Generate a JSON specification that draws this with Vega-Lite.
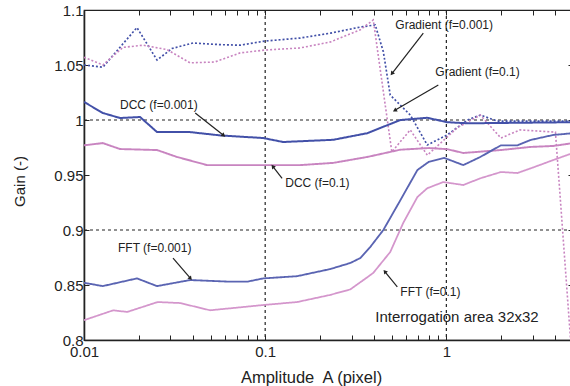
{
  "$schema": "https://vega.github.io/schema/vega-lite/v6.json",
  "width": 489,
  "height": 330,
  "autosize": {"type": "none"},
  "padding": {"left": 84, "top": 10, "right": 0, "bottom": 46},
  "background": "white",
  "config": {
    "view": {"stroke": "#222", "strokeWidth": 1.2},
    "font": "Liberation Sans",
    "axis": {
      "domainColor": "#222", "domainWidth": 1.6, "tickColor": "#222", "tickWidth": 1,
      "labelFont": "Liberation Sans", "labelFontSize": 15, "labelColor": "#222",
      "titleFont": "Liberation Sans", "titleFontSize": 15, "titleFontWeight": "normal", "titleColor": "#222",
      "grid": false, "labelFlush": false
    }
  },
  "datasets": {
    "curves": [
      {"s": "Gradient (f=0.001)", "x": 0.01, "y": 1.05},
      {"s": "Gradient (f=0.001)", "x": 0.0127, "y": 1.048},
      {"s": "Gradient (f=0.001)", "x": 0.0196, "y": 1.084},
      {"s": "Gradient (f=0.001)", "x": 0.0253, "y": 1.0545},
      {"s": "Gradient (f=0.001)", "x": 0.0306, "y": 1.065},
      {"s": "Gradient (f=0.001)", "x": 0.04, "y": 1.07},
      {"s": "Gradient (f=0.001)", "x": 0.0564, "y": 1.0685},
      {"s": "Gradient (f=0.001)", "x": 0.0728, "y": 1.068},
      {"s": "Gradient (f=0.001)", "x": 0.1, "y": 1.0718},
      {"s": "Gradient (f=0.001)", "x": 0.156, "y": 1.0745},
      {"s": "Gradient (f=0.001)", "x": 0.23, "y": 1.079},
      {"s": "Gradient (f=0.001)", "x": 0.335, "y": 1.0845},
      {"s": "Gradient (f=0.001)", "x": 0.405, "y": 1.0864},
      {"s": "Gradient (f=0.001)", "x": 0.449, "y": 1.062},
      {"s": "Gradient (f=0.001)", "x": 0.49, "y": 1.0227},
      {"s": "Gradient (f=0.001)", "x": 0.632, "y": 1.0045},
      {"s": "Gradient (f=0.001)", "x": 0.785, "y": 0.9773},
      {"s": "Gradient (f=0.001)", "x": 1.01, "y": 0.9864},
      {"s": "Gradient (f=0.001)", "x": 1.31, "y": 1.0},
      {"s": "Gradient (f=0.001)", "x": 1.54, "y": 1.0045},
      {"s": "Gradient (f=0.001)", "x": 1.91, "y": 0.999},
      {"s": "Gradient (f=0.001)", "x": 3.0, "y": 0.999},
      {"s": "Gradient (f=0.001)", "x": 5.0, "y": 0.999},

      {"s": "Gradient (f=0.1)", "x": 0.01, "y": 1.057},
      {"s": "Gradient (f=0.1)", "x": 0.0127, "y": 1.05},
      {"s": "Gradient (f=0.1)", "x": 0.0164, "y": 1.066},
      {"s": "Gradient (f=0.1)", "x": 0.0212, "y": 1.068},
      {"s": "Gradient (f=0.1)", "x": 0.0287, "y": 1.064},
      {"s": "Gradient (f=0.1)", "x": 0.0385, "y": 1.052},
      {"s": "Gradient (f=0.1)", "x": 0.0526, "y": 1.0527},
      {"s": "Gradient (f=0.1)", "x": 0.0728, "y": 1.061},
      {"s": "Gradient (f=0.1)", "x": 0.1, "y": 1.0636},
      {"s": "Gradient (f=0.1)", "x": 0.156, "y": 1.0655},
      {"s": "Gradient (f=0.1)", "x": 0.23, "y": 1.071},
      {"s": "Gradient (f=0.1)", "x": 0.335, "y": 1.082},
      {"s": "Gradient (f=0.1)", "x": 0.395, "y": 1.091},
      {"s": "Gradient (f=0.1)", "x": 0.5, "y": 0.971},
      {"s": "Gradient (f=0.1)", "x": 0.632, "y": 0.991},
      {"s": "Gradient (f=0.1)", "x": 0.785, "y": 0.968},
      {"s": "Gradient (f=0.1)", "x": 1.15, "y": 0.993},
      {"s": "Gradient (f=0.1)", "x": 1.54, "y": 1.0045},
      {"s": "Gradient (f=0.1)", "x": 2.0, "y": 0.9836},
      {"s": "Gradient (f=0.1)", "x": 2.55, "y": 0.991},
      {"s": "Gradient (f=0.1)", "x": 4.0, "y": 0.989},
      {"s": "Gradient (f=0.1)", "x": 5.0, "y": 0.77},

      {"s": "DCC (f=0.001)", "x": 0.01, "y": 1.0164},
      {"s": "DCC (f=0.001)", "x": 0.0127, "y": 1.0064},
      {"s": "DCC (f=0.001)", "x": 0.0158, "y": 1.0018},
      {"s": "DCC (f=0.001)", "x": 0.0204, "y": 1.0027},
      {"s": "DCC (f=0.001)", "x": 0.0253, "y": 0.989},
      {"s": "DCC (f=0.001)", "x": 0.0385, "y": 0.989},
      {"s": "DCC (f=0.001)", "x": 0.0564, "y": 0.986},
      {"s": "DCC (f=0.001)", "x": 0.0975, "y": 0.9836},
      {"s": "DCC (f=0.001)", "x": 0.1257, "y": 0.98},
      {"s": "DCC (f=0.001)", "x": 0.2374, "y": 0.982},
      {"s": "DCC (f=0.001)", "x": 0.366, "y": 0.988},
      {"s": "DCC (f=0.001)", "x": 0.557, "y": 1.0},
      {"s": "DCC (f=0.001)", "x": 0.785, "y": 1.002},
      {"s": "DCC (f=0.001)", "x": 1.01, "y": 0.998},
      {"s": "DCC (f=0.001)", "x": 1.31, "y": 0.997},
      {"s": "DCC (f=0.001)", "x": 5.0, "y": 0.998},

      {"s": "DCC (f=0.1)", "x": 0.01, "y": 0.977},
      {"s": "DCC (f=0.1)", "x": 0.0127, "y": 0.979},
      {"s": "DCC (f=0.1)", "x": 0.0158, "y": 0.9736},
      {"s": "DCC (f=0.1)", "x": 0.0253, "y": 0.9727},
      {"s": "DCC (f=0.1)", "x": 0.0326, "y": 0.9664},
      {"s": "DCC (f=0.1)", "x": 0.0478, "y": 0.959},
      {"s": "DCC (f=0.1)", "x": 0.0795, "y": 0.959},
      {"s": "DCC (f=0.1)", "x": 0.156, "y": 0.959},
      {"s": "DCC (f=0.1)", "x": 0.2374, "y": 0.961},
      {"s": "DCC (f=0.1)", "x": 0.366, "y": 0.9664},
      {"s": "DCC (f=0.1)", "x": 0.557, "y": 0.973},
      {"s": "DCC (f=0.1)", "x": 0.8, "y": 0.9745},
      {"s": "DCC (f=0.1)", "x": 1.01, "y": 0.9735},
      {"s": "DCC (f=0.1)", "x": 1.24, "y": 0.97},
      {"s": "DCC (f=0.1)", "x": 2.0, "y": 0.9727},
      {"s": "DCC (f=0.1)", "x": 2.91, "y": 0.9755},
      {"s": "DCC (f=0.1)", "x": 3.89, "y": 0.9764},
      {"s": "DCC (f=0.1)", "x": 5.0, "y": 0.979},

      {"s": "FFT (f=0.001)", "x": 0.01, "y": 0.852},
      {"s": "FFT (f=0.001)", "x": 0.0127, "y": 0.849},
      {"s": "FFT (f=0.001)", "x": 0.0196, "y": 0.856},
      {"s": "FFT (f=0.001)", "x": 0.0253, "y": 0.849},
      {"s": "FFT (f=0.001)", "x": 0.0385, "y": 0.8545},
      {"s": "FFT (f=0.001)", "x": 0.0641, "y": 0.853},
      {"s": "FFT (f=0.001)", "x": 0.0795, "y": 0.853},
      {"s": "FFT (f=0.001)", "x": 0.0975, "y": 0.856},
      {"s": "FFT (f=0.001)", "x": 0.15, "y": 0.858},
      {"s": "FFT (f=0.001)", "x": 0.2287, "y": 0.8645},
      {"s": "FFT (f=0.001)", "x": 0.295, "y": 0.87},
      {"s": "FFT (f=0.001)", "x": 0.335, "y": 0.8745},
      {"s": "FFT (f=0.001)", "x": 0.38, "y": 0.8845},
      {"s": "FFT (f=0.001)", "x": 0.449, "y": 0.9},
      {"s": "FFT (f=0.001)", "x": 0.557, "y": 0.927},
      {"s": "FFT (f=0.001)", "x": 0.692, "y": 0.9545},
      {"s": "FFT (f=0.001)", "x": 0.8, "y": 0.962},
      {"s": "FFT (f=0.001)", "x": 0.975, "y": 0.9655},
      {"s": "FFT (f=0.001)", "x": 1.24, "y": 0.959},
      {"s": "FFT (f=0.001)", "x": 1.54, "y": 0.9664},
      {"s": "FFT (f=0.001)", "x": 2.0, "y": 0.977},
      {"s": "FFT (f=0.001)", "x": 2.47, "y": 0.977},
      {"s": "FFT (f=0.001)", "x": 2.91, "y": 0.9818},
      {"s": "FFT (f=0.001)", "x": 3.89, "y": 0.9864},
      {"s": "FFT (f=0.001)", "x": 5.0, "y": 0.988},

      {"s": "FFT (f=0.1)", "x": 0.01, "y": 0.818},
      {"s": "FFT (f=0.1)", "x": 0.0145, "y": 0.827},
      {"s": "FFT (f=0.1)", "x": 0.0173, "y": 0.8255},
      {"s": "FFT (f=0.1)", "x": 0.0255, "y": 0.8345},
      {"s": "FFT (f=0.1)", "x": 0.0339, "y": 0.8336},
      {"s": "FFT (f=0.1)", "x": 0.0497, "y": 0.827},
      {"s": "FFT (f=0.1)", "x": 0.0975, "y": 0.8318},
      {"s": "FFT (f=0.1)", "x": 0.15, "y": 0.8345},
      {"s": "FFT (f=0.1)", "x": 0.2287, "y": 0.841},
      {"s": "FFT (f=0.1)", "x": 0.295, "y": 0.846},
      {"s": "FFT (f=0.1)", "x": 0.366, "y": 0.857},
      {"s": "FFT (f=0.1)", "x": 0.395, "y": 0.861},
      {"s": "FFT (f=0.1)", "x": 0.49, "y": 0.88},
      {"s": "FFT (f=0.1)", "x": 0.578, "y": 0.9064},
      {"s": "FFT (f=0.1)", "x": 0.692, "y": 0.93},
      {"s": "FFT (f=0.1)", "x": 0.785, "y": 0.938},
      {"s": "FFT (f=0.1)", "x": 0.962, "y": 0.9436},
      {"s": "FFT (f=0.1)", "x": 1.24, "y": 0.9409},
      {"s": "FFT (f=0.1)", "x": 1.54, "y": 0.947},
      {"s": "FFT (f=0.1)", "x": 2.0, "y": 0.9527},
      {"s": "FFT (f=0.1)", "x": 2.47, "y": 0.9518},
      {"s": "FFT (f=0.1)", "x": 3.03, "y": 0.957},
      {"s": "FFT (f=0.1)", "x": 3.89, "y": 0.9636},
      {"s": "FFT (f=0.1)", "x": 5.0, "y": 0.97}
    ],
    "gridx": [{"x": 0.1}, {"x": 1}],
    "gridy": [{"y": 0.9}, {"y": 1}],
    "labels": [
      {"t": "DCC (f=0.001)", "x": 0.0158, "y": 1.0136},
      {"t": "DCC (f=0.1)", "x": 0.129, "y": 0.9427},
      {"t": "Gradient (f=0.001)", "x": 0.5227, "y": 1.0864},
      {"t": "Gradient (f=0.1)", "x": 0.869, "y": 1.0436},
      {"t": "FFT (f=0.001)", "x": 0.0154, "y": 0.8836},
      {"t": "FFT (f=0.1)", "x": 0.557, "y": 0.8436}
    ],
    "arrows": [
      {"x": 0.0411, "y": 1.0064, "x2": 0.0586, "y2": 0.9864, "dir": 128},
      {"x": 0.124, "y": 0.947, "x2": 0.1107, "y2": 0.9573, "dir": 321},
      {"x": 0.746, "y": 1.079, "x2": 0.503, "y2": 1.0427, "dir": 218},
      {"x": 0.903, "y": 1.0318, "x2": 0.5227, "y2": 1.009, "dir": 240},
      {"x": 0.031, "y": 0.8745, "x2": 0.0385, "y2": 0.8564, "dir": 140},
      {"x": 0.536, "y": 0.8482, "x2": 0.46, "y2": 0.8618, "dir": 321}
    ],
    "note": [{"t": "Interrogation area 32x32", "x": 0.405, "y": 0.8209}]
  },
  "layer": [
    {
      "data": {"name": "gridx"},
      "mark": {"type": "rule", "color": "#222", "strokeWidth": 1.2, "strokeDash": [3, 3]},
      "encoding": {
        "x": {"field": "x", "type": "quantitative", "scale": {"type": "log", "domain": [0.01, 5], "nice": false},
          "axis": {"orient": "top", "labels": false, "domain": false, "title": null, "tickSize": -5,
            "values": [0.01,0.02,0.03,0.04,0.05,0.06,0.07,0.08,0.09,0.1,0.2,0.3,0.4,0.5,0.6,0.7,0.8,0.9,1,2,3,4,5]}}
      }
    },
    {
      "data": {"name": "gridy"},
      "mark": {"type": "rule", "color": "#222", "strokeWidth": 1.2, "strokeDash": [3, 3]},
      "encoding": {
        "y": {"field": "y", "type": "quantitative", "scale": {"domain": [0.8, 1.1], "nice": false, "zero": false},
          "axis": {"orient": "right", "labels": false, "domain": false, "title": null, "tickSize": -5,
            "values": [0.8,0.85,0.9,0.95,1,1.05,1.1]}}
      }
    },
    {
      "data": {"name": "curves"},
      "mark": {"type": "line", "clip": true},
      "encoding": {
        "x": {"field": "x", "type": "quantitative", "scale": {"type": "log", "domain": [0.01, 5], "nice": false},
          "axis": {"orient": "bottom", "title": "Amplitude\u00a0 A (pixel)", "tickSize": -5,
            "values": [0.01,0.02,0.03,0.04,0.05,0.06,0.07,0.08,0.09,0.1,0.2,0.3,0.4,0.5,0.6,0.7,0.8,0.9,1,2,3,4,5],
            "labelExpr": "datum.value == 0.01 ? '0.01' : datum.value == 0.1 ? '0.1' : datum.value == 1 ? '1' : ''",
            "labelPadding": 9, "titleFontSize": 16.5, "titleX": 227, "titleY": 37, "titleBaseline": "middle", "titleAlign": "center"}},
        "y": {"field": "y", "type": "quantitative", "scale": {"domain": [0.8, 1.1], "nice": false, "zero": false},
          "axis": {"orient": "left", "title": "Gain (-)", "tickSize": -5, "format": "~g",
            "values": [0.8,0.85,0.9,0.95,1,1.05,1.1], "labelPadding": 6,
            "titleX": -65, "titleY": 171, "titleAngle": -90, "titleBaseline": "middle", "titleAlign": "center"}},
        "color": {"field": "s", "type": "nominal", "legend": null,
          "scale": {"domain": ["DCC (f=0.001)","DCC (f=0.1)","FFT (f=0.001)","FFT (f=0.1)","Gradient (f=0.001)","Gradient (f=0.1)"],
            "range": ["#4250a8","#c884c0","#5a64b2","#d496cc","#4250a8","#c884c0"]}},
        "strokeDash": {"field": "s", "type": "nominal", "legend": null,
          "scale": {"domain": ["DCC (f=0.001)","DCC (f=0.1)","FFT (f=0.001)","FFT (f=0.1)","Gradient (f=0.001)","Gradient (f=0.1)"],
            "range": [[1,0],[1,0],[1,0],[1,0],[2,2],[2,2]]}},
        "strokeWidth": {"field": "s", "type": "nominal", "legend": null,
          "scale": {"domain": ["DCC (f=0.001)","DCC (f=0.1)","FFT (f=0.001)","FFT (f=0.1)","Gradient (f=0.001)","Gradient (f=0.1)"],
            "range": [2,1.6,1.2,1.2,1.8,1.8]}}
      }
    },
    {
      "data": {"name": "arrows"},
      "mark": {"type": "rule", "color": "#222", "strokeWidth": 1.2},
      "encoding": {
        "x": {"field": "x", "type": "quantitative", "axis": null},
        "y": {"field": "y", "type": "quantitative", "axis": null},
        "x2": {"field": "x2"},
        "y2": {"field": "y2"}
      }
    },
    {
      "data": {"name": "arrows"},
      "mark": {"type": "point", "shape": "triangle", "filled": true, "color": "#222", "size": 22, "opacity": 1},
      "encoding": {
        "x": {"field": "x2", "type": "quantitative", "axis": null},
        "y": {"field": "y2", "type": "quantitative", "axis": null},
        "angle": {"field": "dir", "type": "quantitative", "scale": null}
      }
    },
    {
      "data": {"name": "labels"},
      "mark": {"type": "text", "align": "left", "baseline": "middle", "fontSize": 12, "color": "#222", "font": "Liberation Sans"},
      "encoding": {
        "x": {"field": "x", "type": "quantitative", "axis": null},
        "y": {"field": "y", "type": "quantitative", "axis": null},
        "text": {"field": "t"}
      }
    },
    {
      "data": {"name": "note"},
      "mark": {"type": "text", "align": "left", "baseline": "middle", "fontSize": 15, "color": "#222", "font": "Liberation Sans"},
      "encoding": {
        "x": {"field": "x", "type": "quantitative", "axis": null},
        "y": {"field": "y", "type": "quantitative", "axis": null},
        "text": {"field": "t"}
      }
    }
  ]
}
